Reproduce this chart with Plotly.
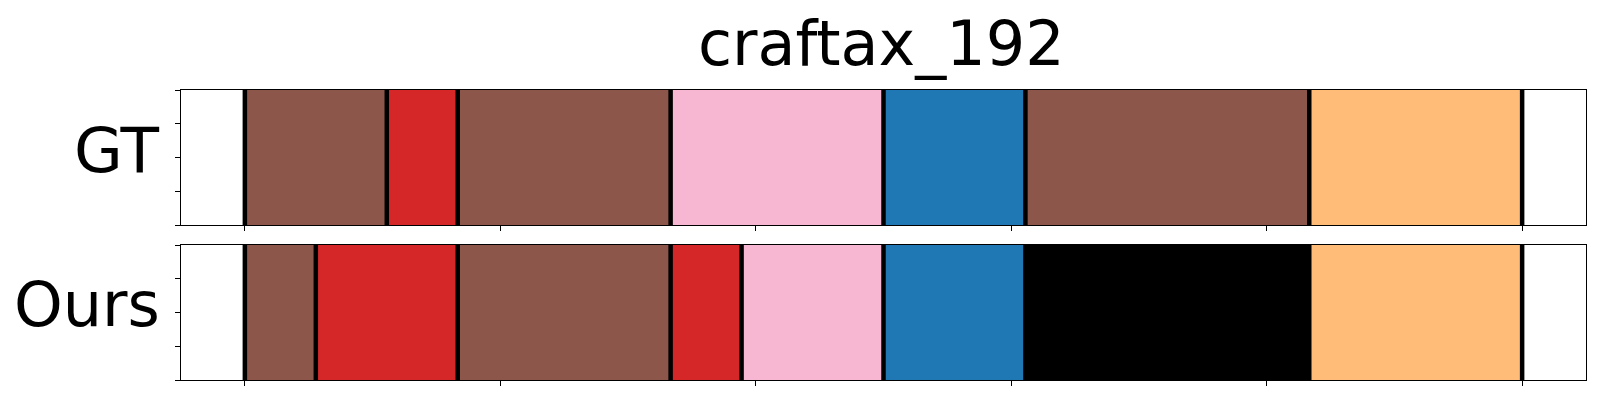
import plotly.graph_objects as go
from plotly.subplots import make_subplots

# ---- data ----
title_text = "craftax_192"
row_names = ["GT", "Ours"]
n_steps = 18
gt_steps = ["brown", "brown", "red", "brown", "brown", "brown", "pink", "pink", "pink",
            "blue", "blue", "brown", "brown", "brown", "brown", "orange", "orange", "orange"]
ours_steps = ["brown", "red", "red", "brown", "brown", "brown", "red", "pink", "pink",
              "blue", "blue", "black", "black", "black", "black", "orange", "orange", "orange"]
class_colors = {
    "brown": "#8c564b",
    "red": "#d62728",
    "pink": "#f7b6d2",
    "blue": "#1f77b4",
    "orange": "#ffbb78",
    "black": "#000000",
}
x_ticks = [0.0, 0.2, 0.4, 0.6, 0.8, 1.0]
y_ticks = [0.0, 0.25, 0.5, 0.75, 1.0]


def runs(steps):
    segs = []
    start = 0
    for i in range(1, len(steps) + 1):
        if i == len(steps) or steps[i] != steps[start]:
            segs.append((start / n_steps, i / n_steps, steps[start]))
            start = i
    return segs


fig = make_subplots(rows=2, cols=1, shared_xaxes=False, vertical_spacing=0.069)

for r, steps in enumerate([gt_steps, ours_steps], start=1):
    segs = runs(steps)
    for s, e, lab in segs:
        fig.add_trace(go.Bar(
            x=[e - s], base=[s], y=[0.5], width=[1.0], orientation="h",
            marker=dict(color=class_colors[lab], line=dict(width=0)),
            showlegend=False, hoverinfo="skip"), row=r, col=1)
    bx, by = [], []
    bounds = [segs[0][0]] + [seg[1] for seg in segs]
    for b in bounds:
        bx += [b, b, None]
        by += [0, 1, None]
    fig.add_trace(go.Scatter(x=bx, y=by, mode="lines",
                             line=dict(color="black", width=4.5),
                             showlegend=False, hoverinfo="skip"), row=r, col=1)

axis_common = dict(showline=True, linecolor="black", linewidth=1.1, mirror=True,
                   ticks="outside", ticklen=5, tickwidth=1.1, tickcolor="black",
                   showticklabels=False, showgrid=False, zeroline=False)
for r in (1, 2):
    fig.update_xaxes(range=[-0.05, 1.05], tickvals=x_ticks, row=r, col=1, **axis_common)
    fig.update_yaxes(range=[0, 1], tickvals=y_ticks, row=r, col=1, **axis_common)

fig.update_layout(
    width=1600, height=400,
    margin=dict(l=181, r=14, t=90, b=20, pad=0),
    plot_bgcolor="white", paper_bgcolor="white",
    barmode="overlay", bargap=0,
    font=dict(family="DejaVu Sans", color="black"),
    xaxis=dict(domain=[0, 1]), xaxis2=dict(domain=[0, 1]),
    yaxis=dict(domain=[0.5345, 1.0]), yaxis2=dict(domain=[0.0, 0.4655]),
)

fig.add_annotation(text=title_text, xref="paper", yref="paper", x=0.4985, y=1.162,
                   xanchor="center", yanchor="middle", showarrow=False,
                   font=dict(size=62, family="DejaVu Sans", color="black"))
fig.add_annotation(text=row_names[0], xref="paper", yref="y domain", x=0, y=0.55,
                   xanchor="right", yanchor="middle", xshift=-19, showarrow=False,
                   font=dict(size=63, family="DejaVu Sans", color="black"))
fig.add_annotation(text=row_names[1], xref="paper", yref="y2 domain", x=0, y=0.558,
                   xanchor="right", yanchor="middle", xshift=-19, showarrow=False,
                   font=dict(size=62, family="DejaVu Sans", color="black"))

fig.write_html("out.html", config={"displayModeBar": False},
               post_script="document.body.style.margin='0';")
